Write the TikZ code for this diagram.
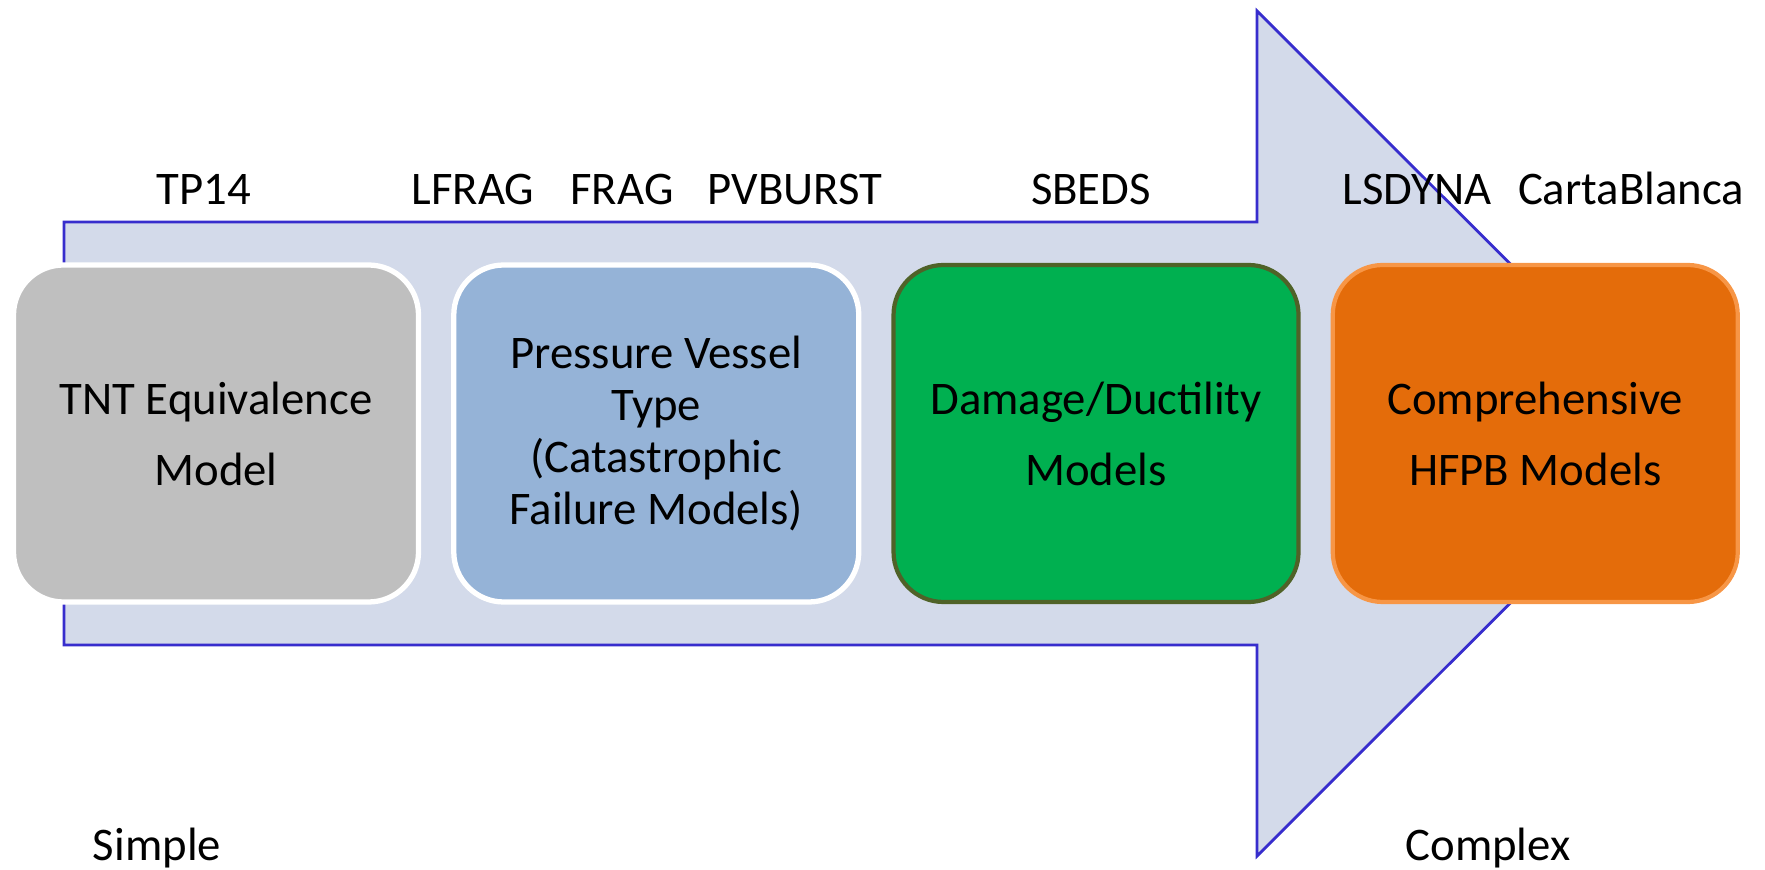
\documentclass[tikz,border=0pt]{standalone}
\usepackage{fontspec}
\setmainfont{Carlito}
\usetikzlibrary{positioning}
\definecolor{arrowfill}{RGB}{211,218,234}
\definecolor{arrowline}{RGB}{55,45,205}
\definecolor{tntgray}{RGB}{191,191,191}
\definecolor{vesselblue}{RGB}{149,179,215}
\definecolor{damagegreen}{RGB}{0,176,80}
\definecolor{damageedge}{RGB}{79,98,40}
\definecolor{hfpborange}{RGB}{228,108,10}
\definecolor{hfpbedge}{RGB}{247,150,70}

\begin{document}
\begin{tikzpicture}[
    model/.style={rounded corners=0.5cm, minimum width=4.05cm, minimum height=3.37cm,
                  align=center, inner sep=0pt, font=\fontsize{13.3}{20.2}\selectfont},
    code/.style={anchor=base, inner sep=0pt, font=\fontsize{13.3}{16}\selectfont}
  ]
    \useasboundingbox (0,0) rectangle (17.65,8.69);
    % big arrow behind the boxes
    \draw[arrowline, fill=arrowfill, line width=0.8pt]
      (0.64,6.47) -- (12.57,6.47) -- (12.57,8.58) -- (16.80,4.355)
      -- (12.57,0.13) -- (12.57,2.24) -- (0.64,2.24) -- cycle;
    \node[model, fill=tntgray, draw=white, line width=1.5pt] (tnt) at (2.16,4.355)
      {TNT Equivalence\\Model};
    \node[model, fill=vesselblue, draw=white, line width=1.5pt,
          font=\fontsize{13.3}{14.8}\selectfont, right=0.3cm of tnt] (vessel)
      {Pressure Vessel\\Type\\(Catastrophic\\Failure Models)};
    \node[model, fill=damagegreen, draw=damageedge, line width=1.2pt, right=0.3cm of vessel] (damage)
      {Damage/Ductility\\Models};
    \node[model, fill=hfpborange, draw=hfpbedge, line width=1.2pt, right=0.3cm of damage] (hfpb)
      {Comprehensive\\HFPB Models};
    % codes above the arrow
    \node[code] (tp14) at (2.04,6.64) {TP14};
    \node[code] (lfrag) at (4.73,6.64) {LFRAG};
    \node[code] (frag) at (6.22,6.64) {FRAG};
    \node[code] (pvburst) at (7.95,6.64) {PVBURST};
    \node[code] (sbeds) at (10.91,6.64) {SBEDS};
    \node[code] (lsdyna) at (14.17,6.64) {LSDYNA};
    \node[code] (carta) at (16.31,6.64) {CartaBlanca};
    % ends of the scale
    \node[code] (simple) at (1.57,0.09) {Simple};
    \node[code] (complex) at (14.88,0.09) {Complex};
\end{tikzpicture}
\end{document}
